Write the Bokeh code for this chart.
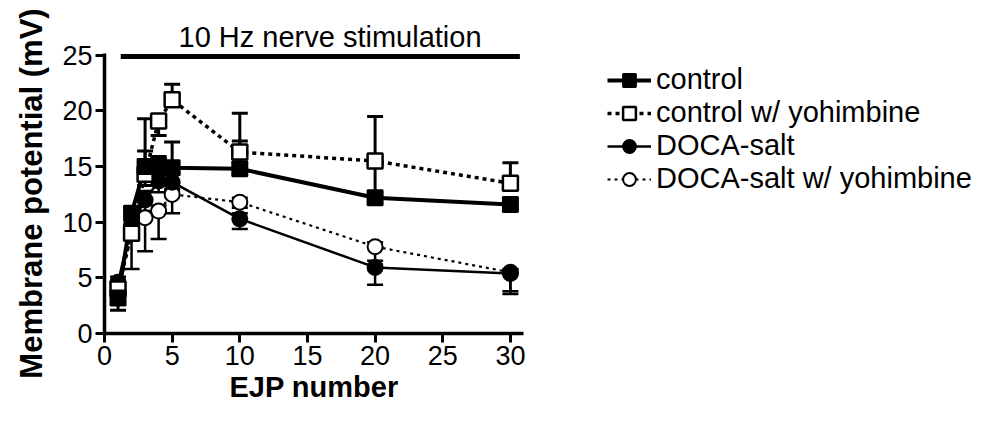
from bokeh.plotting import figure
from bokeh.models import Range1d, FixedTicker, Legend, LegendItem, Title
from bokeh.embed import file_html
from bokeh.resources import INLINE

# ---------------- data ----------------
ejp = [1, 2, 3, 4, 5, 10, 20, 30]

control = [3.2, 10.8, 15.0, 15.1, 14.9, 14.8, 12.2, 11.6]
control_up = [0.4, 0.5, 1.4, 0.8, 2.3, 5.0, 0.4, 0.4]
control_lo = [1.1, 0.5, 0.5, 0.5, 0.5, 0.5, 0.4, 0.4]

ctrl_yoh = [4.0, 9.0, 14.3, 19.1, 21.0, 16.3, 15.5, 13.5]
ctrl_yoh_up = [0.4, 0.6, 5.0, 0.5, 1.4, 1.0, 4.0, 1.85]
ctrl_yoh_lo = [0.4, 0.6, 1.0, 1.3, 0.5, 1.0, 3.3, 0.5]

doca = [4.6, 9.8, 12.0, 13.7, 13.6, 10.3, 5.94, 5.4]
doca_up = [0.5, 0.8, 0.8, 0.8, 0.8, 0.5, 0.6, 0.3]
doca_lo = [0.5, 0.8, 1.0, 1.0, 0.8, 0.9, 1.55, 1.85]

doca_yoh = [3.7, 9.0, 10.4, 11.0, 12.5, 11.8, 7.8, 5.5]
doca_yoh_up = [0.4, 0.5, 0.5, 0.5, 0.5, 0.4, 0.4, 0.3]
doca_yoh_lo = [0.6, 3.2, 3.0, 2.5, 1.7, 0.5, 1.6, 1.7]

stim_span = [1.2, 30.7]
stim_level = 24.9
stim_text = "10 Hz nerve stimulation"

x_ticks = [0, 5, 10, 15, 20, 25, 30]
y_ticks = [0, 5, 10, 15, 20, 25]
x_axis_span = (0, 31)
y_top = 25.16

x_title = "EJP number"
y_title = "Membrane potential (mV)"
labels = ["control", "control w/ yohimbine", "DOCA-salt", "DOCA-salt w/ yohimbine"]

# ---------------- layout ----------------
FONT = "Liberation Sans"
W, H = 992, 421
LEFT, RIGHT = 104, 5
PX_PER_X = 13.53
x_end = (W - LEFT - RIGHT) / PX_PER_X

p = figure(width=W, height=H, x_range=Range1d(0, x_end), y_range=Range1d(0, y_top),
           min_border_left=LEFT, min_border_right=RIGHT, min_border_top=53,
           min_border_bottom=88, output_backend="svg", toolbar_location=None)
p.outline_line_color = None
p.grid.visible = False
p.background_fill_color = "white"
p.border_fill_color = "white"

for ax, ticks in ((p.xaxis, x_ticks), (p.yaxis, y_ticks)):
    ax.ticker = FixedTicker(ticks=ticks)
    ax.axis_line_width = 3.5
    ax.axis_line_color = "black"
    ax.major_tick_line_width = 3
    ax.major_tick_line_color = "black"
    ax.major_tick_out = 9
    ax.major_tick_in = 0
    ax.minor_tick_line_color = None
    ax.major_label_text_font = FONT
    ax.major_label_text_font_size = "27px"
    ax.major_label_text_color = "black"
    ax.major_label_standoff = 3
    ax.axis_label_text_font = FONT
    ax.axis_label_text_font_style = "bold"
    ax.axis_label_text_color = "black"
p.xaxis.bounds = x_axis_span

p.yaxis.axis_label = y_title
p.yaxis.axis_label_text_font_size = "31px"
p.yaxis.axis_label_standoff = 10

# x-axis title placed under the drawn axis span
p.add_layout(Title(text=x_title, align="left", offset=125, standoff=2,
                   text_font=FONT, text_font_size="29px", text_font_style="bold",
                   text_color="black"), "below")

# title above the stimulation bar
p.title.text = stim_text
p.title.text_font = FONT
p.title.text_font_size = "29px"
p.title.text_font_style = "normal"
p.title.text_color = "black"
p.title.align = "left"
p.title.offset = 74
p.title.standoff = 2

series = [
    (control, control_up, control_lo, "square", "black", 2, "solid", 4.0, 3.0),
    (ctrl_yoh, ctrl_yoh_up, ctrl_yoh_lo, "square", "white", 2.5, "4 4", 3.5, 3.0),
    (doca, doca_up, doca_lo, "circle", "black", 2, "solid", 2.5, 2.5),
    (doca_yoh, doca_yoh_up, doca_yoh_lo, "circle", "white", 2, "3 4", 2.2, 2.5),
]

# error bars
for ys, up, lo, mk, fill, mlw, dash, lw, elw in series:
    hi = [y + u for y, u in zip(ys, up)]
    low = [y - l for y, l in zip(ys, lo)]
    p.segment(x0=ejp, y0=low, x1=ejp, y1=hi, line_color="black", line_width=elw)
    p.scatter(x=ejp, y=hi, marker="dash", size=16, line_color="black", line_width=elw)
    p.scatter(x=ejp, y=low, marker="dash", size=16, line_color="black", line_width=elw)

line_rs = []
for ys, up, lo, mk, fill, mlw, dash, lw, elw in series:
    line_rs.append(p.line(ejp, ys, line_color="black", line_width=lw, line_dash=dash))

marker_rs = [None] * 4
for i in (3, 2, 1, 0):
    ys, up, lo, mk, fill, mlw, dash, lw, elw = series[i]
    marker_rs[i] = p.scatter(ejp, ys, marker=mk, size=15, fill_color=fill,
                             line_color="black", line_width=mlw)

# stimulation bar
p.segment(x0=[stim_span[0]], y0=[stim_level], x1=[stim_span[1]], y1=[stim_level],
          line_color="black", line_width=5)

items = [LegendItem(label=labels[i], renderers=[line_rs[i], marker_rs[i]]) for i in range(4)]
legend = Legend(items=items, location=(503, 138), orientation="vertical",
                label_text_font=FONT, label_text_font_size="29px", label_text_color="black",
                glyph_width=44, glyph_height=32, label_height=32, label_standoff=5,
                spacing=0, padding=0, margin=0, border_line_color=None,
                background_fill_alpha=0)
p.add_layout(legend)

open("out.html", "w").write(file_html(p, INLINE))
